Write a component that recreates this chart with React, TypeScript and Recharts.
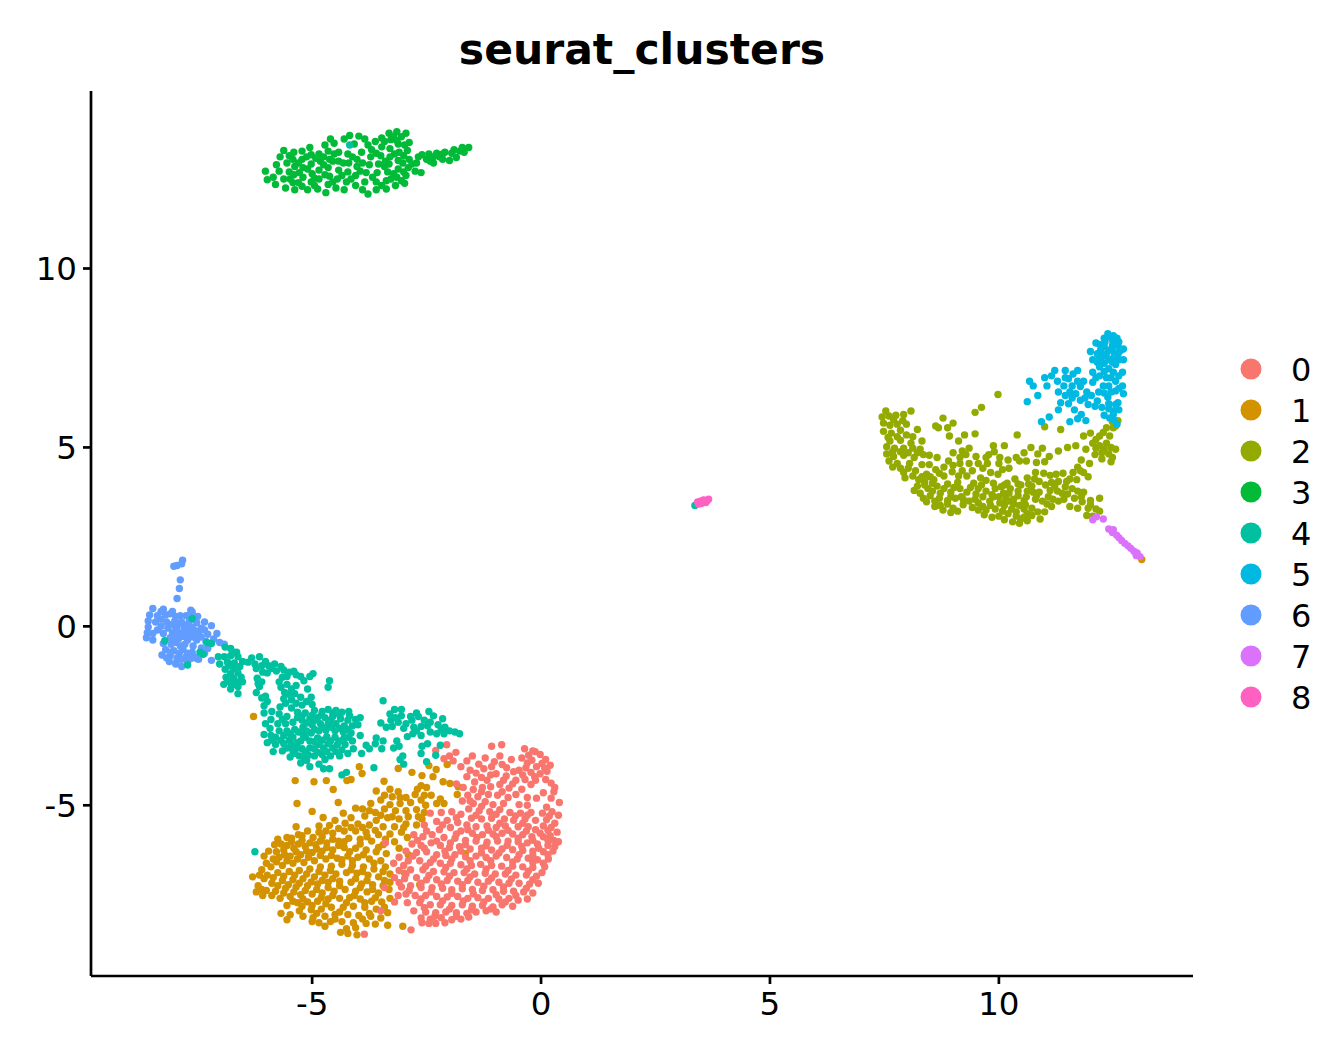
import React from "react";
import { ScatterChart, Scatter, XAxis, YAxis, Legend } from "recharts";

const clusterNames = ["0", "1", "2", "3", "4", "5", "6", "7", "8"];
const clusterColors = ["#F8766D", "#D39200", "#93AA00", "#00BA38", "#00C19F", "#00B9E3", "#619CFF", "#DB72FB", "#FF61C3"];
const xTicks = [-5, 0, 5, 10];
const yTicks = [-5, 0, 5, 10];
const xDomain = [-9.83, 14.24];
const yDomain = [-9.77, 14.96];

const cluster0 = [
[-2.06,-3.31],[-2.3,-3.47],[-1.08,-3.35],[-0.86,-3.31],[-0.36,-3.42],[-0.13,-3.5],[-0.27,-3.6],[-0.02,-3.58],[0.1,-3.72],[-0.2,-3.74],[-0.42,-3.68],[0.02,-3.83],[-0.1,-3.92],[0.2,-3.88],[-0.33,-3.95],[0.13,-4.05],[-0.22,-4.08],[-0.02,-4.12],[-0.48,-4.02],[-0.6,-4.06],[-0.75,-3.95],[-0.9,-3.62],[-1.02,-3.78],[-1.22,-3.68],[-1.36,-3.85],[-1.5,-3.62],[-1.62,-3.76],[-1.86,-3.52],[-2.0,-3.62],[-1.92,-3.76],[-2.12,-3.7],[-1.75,-3.92],[-1.55,-4.02],[-1.25,-3.98],[-1.08,-3.92],[-0.85,-3.86],[-0.65,-3.72],[-0.98,-4.12],[-0.76,-4.18],[-0.55,-4.3],[-0.35,-4.28],[-0.12,-4.3],[0.1,-4.28],[0.22,-4.38],[-0.22,-4.42],
[-1.3,-4.22],[-1.18,-4.3],[-1.45,-4.35],[-1.62,-4.2],[-1.85,-4.4],[-1.7,-4.5],[-1.48,-4.56],[-1.28,-4.5],[-1.1,-4.48],[-0.9,-4.42],[-0.7,-4.52],[-0.42,-4.55],[0.28,-4.62],[0.05,-4.65],[-1.6,-4.72],[-1.38,-4.76],[-1.15,-4.7],[-0.95,-4.72],[-0.72,-4.78],[-0.55,-4.7],[0.4,-4.92],[0.22,-4.8],[-0.1,-4.8],[-0.3,-4.78],
[-1.72,-4.88],[-1.48,-4.95],[-1.22,-4.9],[-1.05,-4.98],[-0.82,-4.95],[-0.3,-5.0],[-0.48,-4.98],[-1.58,-5.1],[-1.35,-5.15],[-1.12,-5.18],[-0.9,-5.12],[-0.68,-5.2],[-0.45,-5.22],[-0.22,-5.2],[0.12,-5.05],[0.03,-5.22],[0.24,-5.18],[0.38,-5.28],
[-2.42,-5.22],[-2.18,-5.2],[-1.95,-5.18],[-1.75,-5.25],[-1.52,-5.36],[-1.3,-5.38],[-1.08,-5.36],[-0.8,-5.38],[-0.6,-5.42],[-0.35,-5.38],[-0.12,-5.42],[0.12,-5.4],[0.3,-5.5],[0.05,-5.58],
[-2.55,-5.55],[-2.28,-5.45],[-2.05,-5.42],[-1.82,-5.48],[-1.62,-5.55],[-1.42,-5.6],[-1.18,-5.58],[-0.98,-5.62],[-0.78,-5.58],[-0.5,-5.6],[-0.28,-5.6],[-0.12,-5.68],[0.15,-5.7],[0.35,-5.75],[-2.22,-5.68],[-1.98,-5.62],[-1.75,-5.72],[-1.5,-5.78],[-1.28,-5.82],[-1.05,-5.8],[-0.85,-5.78],[-0.62,-5.8],[-0.4,-5.82],[-0.2,-5.88],[0.05,-5.88],[0.28,-5.98],
[-2.78,-5.82],[-2.58,-5.88],[-2.38,-5.82],[-2.12,-5.9],[-1.88,-5.92],[-1.65,-5.98],[-1.42,-6.0],[-1.18,-6.03],[-0.95,-6.0],[-0.72,-6.0],[-0.5,-6.02],[-0.3,-6.05],[-0.08,-6.08],[0.15,-6.12],[0.38,-6.02],
[-2.82,-6.08],[-2.62,-6.12],[-2.4,-6.05],[-2.2,-6.12],[-2.0,-6.18],[-1.78,-6.16],[-1.55,-6.22],[-1.3,-6.2],[-1.08,-6.25],[-0.85,-6.22],[-0.62,-6.24],[-0.4,-6.26],[-0.18,-6.28],[0.05,-6.3],[0.26,-6.28],
[-2.95,-6.28],[-2.72,-6.32],[-2.5,-6.3],[-2.28,-6.38],[-2.08,-6.4],[-1.88,-6.38],[-1.65,-6.44],[-1.42,-6.42],[-1.2,-6.46],[-0.98,-6.42],[-0.75,-6.46],[-0.52,-6.5],[-0.28,-6.48],[-0.08,-6.52],[0.16,-6.5],
[-3.1,-6.45],[-3.22,-6.62],[-2.9,-6.55],[-2.65,-6.55],[-2.42,-6.6],[-2.2,-6.62],[-1.98,-6.62],[-1.75,-6.66],[-1.52,-6.68],[-1.32,-6.65],[-1.08,-6.68],[-0.86,-6.7],[-0.62,-6.7],[-0.4,-6.72],[-0.18,-6.74],[0.08,-6.72],
[-3.1,-6.82],[-2.85,-6.8],[-2.58,-6.8],[-2.35,-6.85],[-2.12,-6.86],[-1.9,-6.88],[-1.68,-6.88],[-1.45,-6.92],[-1.22,-6.9],[-1.0,-6.92],[-0.78,-6.92],[-0.55,-6.95],[-0.32,-6.95],[-0.1,-6.98],[0.02,-6.88],
[-3.2,-7.02],[-2.98,-7.05],[-2.72,-7.02],[-2.5,-7.08],[-2.28,-7.08],[-2.05,-7.1],[-1.82,-7.12],[-1.6,-7.1],[-1.38,-7.15],[-1.15,-7.12],[-0.92,-7.15],[-0.7,-7.18],[-0.48,-7.18],[-0.25,-7.2],[-0.06,-7.18],
[-3.05,-7.28],[-2.85,-7.25],[-2.62,-7.3],[-2.38,-7.3],[-2.15,-7.32],[-1.95,-7.36],[-1.72,-7.33],[-1.5,-7.35],[-1.28,-7.38],[-1.05,-7.36],[-0.82,-7.4],[-0.6,-7.4],[-0.38,-7.42],[-0.18,-7.45],
[-3.12,-7.52],[-2.95,-7.48],[-2.75,-7.52],[-2.52,-7.52],[-2.28,-7.55],[-2.05,-7.56],[-1.82,-7.55],[-1.6,-7.6],[-1.38,-7.58],[-1.15,-7.6],[-0.92,-7.62],[-0.7,-7.6],[-0.5,-7.65],[-0.3,-7.62],
[-2.92,-7.72],[-2.65,-7.72],[-2.42,-7.78],[-2.2,-7.78],[-1.95,-7.8],[-1.72,-7.78],[-1.5,-7.82],[-1.28,-7.8],[-1.05,-7.84],[-0.85,-7.78],[-0.62,-7.82],
[-2.78,-7.95],[-2.52,-7.98],[-2.3,-8.0],[-2.08,-7.98],[-1.85,-8.0],[-1.62,-8.02],[-1.42,-7.98],[-1.2,-7.95],[-0.98,-7.98],
[-2.62,-8.15],[-2.42,-8.18],[-2.18,-8.14],[-1.95,-8.2],[-1.75,-8.18],[-1.58,-8.12],[-2.3,-8.3],[-2.1,-8.28],[-2.45,-8.3],[-2.84,-8.48],[-3.86,-8.6],[-3.4,-6.05],[-3.42,-7.3],[-3.5,-7.95],[-3.2,-7.7],
[-0.18,-3.48],[-0.3,-3.82],[0.08,-3.96],[-0.4,-4.15],[-0.14,-4.2],[0.3,-4.5],[-0.62,-4.4],[-0.82,-4.3],[-1.1,-4.15],[-1.42,-4.1],[-1.3,-4.62],[-0.85,-4.62],[-1.55,-4.88],[-1.3,-5.03],[-0.98,-5.25],[-0.56,-5.3],[-0.3,-5.28],[0.18,-5.3],[-1.42,-5.28],[-1.85,-5.35],[-2.15,-5.55],[-0.9,-5.5],[-0.4,-5.5],[0.22,-5.62],[-1.6,-5.68],[-1.15,-5.7],[-0.72,-5.7],[-0.32,-5.72],[-0.02,-5.78],[0.2,-5.85],[-2.5,-5.72],[-1.85,-5.8],[-1.4,-5.9],[-0.98,-5.88],[-0.5,-5.92],[-0.18,-5.98],[0.15,-5.98],[-2.7,-5.98],[-2.28,-6.0],[-1.98,-6.05],[-1.65,-6.1],[-1.2,-6.13],[-0.74,-6.12],[-0.42,-6.15],[-0.05,-6.2],[0.3,-6.15],[-2.55,-6.2],[-2.1,-6.28],[-1.75,-6.28],[-1.3,-6.33],[-0.92,-6.33],[-0.48,-6.38],[-0.18,-6.4],[0.15,-6.38],[-2.8,-6.42],[-2.35,-6.5],[-1.95,-6.5],[-1.55,-6.55],[-1.1,-6.55],[-0.62,-6.58],[-0.18,-6.6],[0.05,-6.62],[-3.0,-6.68],[-2.52,-6.7],[-2.08,-6.74],[-1.62,-6.78],[-1.2,-6.78],[-0.72,-6.82],[-0.28,-6.84],[-2.95,-6.92],[-2.45,-6.96],[-2.0,-6.98],[-1.55,-7.0],[-1.08,-7.03],[-0.65,-7.06],[-0.18,-7.08],[-3.1,-7.16],[-2.62,-7.18],[-2.18,-7.2],[-1.72,-7.22],[-1.25,-7.26],[-0.82,-7.28],[-0.32,-7.32],[-2.88,-7.38],[-2.4,-7.42],[-1.95,-7.46],[-1.48,-7.47],[-0.98,-7.5],[-0.55,-7.52],[-2.62,-7.62],[-2.15,-7.67],[-1.7,-7.67],[-1.25,-7.7],[-0.78,-7.7],[-2.55,-7.86],[-2.0,-7.9],[-1.52,-7.92],[-1.1,-7.9],[-2.32,-8.1],[-1.85,-8.1],[-2.6,-8.28]
];

const cluster1 = [
[-5.37,-4.31],[-4.96,-4.34],[-4.69,-4.31],[-4.24,-4.31],[-4.15,-4.28],[-4.54,-4.56],[-5.33,-4.95],[-4.43,-4.92],[-5,-5.17],[-4.76,-5.34],[-5.35,-5.6],[-3.97,-3.92],[-3.91,-4.11],[-3.43,-4.33],[-3.12,-3.97],[-2.45,-3.89],[-2.05,-3.86],[-2.29,-4.0],[-2.36,-4.2],[-2.82,-4.08],[-2.6,-4.17],[-2.14,-4.34],[-1.99,-4.39],[-1.81,-4.48],[-1.83,-4.7],
[-3.6,-4.6],[-3.3,-4.55],[-3.12,-4.62],[-2.62,-4.45],[-2.5,-4.5],[-2.75,-4.7],[-2.95,-4.78],[-3.25,-4.76],[-3.5,-4.85],[-3.72,-4.95],[-3.9,-5.1],[-3.3,-4.98],[-3.08,-4.95],[-2.85,-4.92],[-2.62,-4.85],[-2.4,-4.72],[-2.2,-4.82],[-2.12,-4.95],[-2.52,-5.0],[-2.72,-5.12],[-2.95,-5.15],[-3.18,-5.15],[-3.42,-5.1],[-3.62,-5.2],[-3.85,-5.3],[-4.05,-5.08],[-4.15,-5.35],[-4.32,-5.22],[-3.6,-5.42],[-3.35,-5.35],[-3.1,-5.38],[-2.9,-5.32],[-2.68,-5.32],[-2.55,-5.2],[-2.72,-5.55],[-2.95,-5.52],[-3.2,-5.6],[-3.45,-5.6],[-3.75,-5.55],[-4.0,-5.52],[-4.28,-5.5],[-4.5,-5.42],[-4.62,-5.56],[-4.85,-5.58],[-4.7,-5.72],[-5.1,-5.72],[-5.3,-5.82],[-5.55,-5.9],[-5.75,-5.95],[-5.82,-6.1],
[-5.95,-6.28],[-6.05,-6.42],[-5.68,-6.08],[-5.45,-6.02],[-5.22,-5.98],[-4.98,-5.9],[-4.78,-5.88],[-4.55,-5.78],[-4.3,-5.72],[-4.05,-5.72],[-3.82,-5.75],[-3.55,-5.82],[-3.3,-5.8],[-3.05,-5.75],[-2.92,-5.9],[-3.2,-6.02],[-3.45,-6.1],[-3.7,-6.0],[-3.95,-5.95],[-4.2,-5.92],[-4.42,-6.0],[-4.68,-6.05],[-4.92,-6.1],[-5.15,-6.15],[-5.4,-6.2],[-5.62,-6.25],[-5.85,-6.5],
[-5.72,-6.45],[-5.48,-6.42],[-5.25,-6.38],[-5.0,-6.32],[-4.78,-6.28],[-4.55,-6.25],[-4.3,-6.18],[-4.05,-6.2],[-3.82,-6.25],[-3.6,-6.3],[-3.38,-6.35],[-3.5,-6.55],[-3.75,-6.5],[-4.0,-6.45],[-4.22,-6.42],[-4.45,-6.48],[-4.7,-6.5],[-4.95,-6.55],[-5.18,-6.6],[-5.42,-6.62],[-5.65,-6.68],[-5.9,-6.72],[-6.1,-6.8],
[-6.3,-7.0],[-6.18,-7.25],[-5.98,-6.95],[-5.75,-6.88],[-5.5,-6.85],[-5.28,-6.82],[-5.05,-6.78],[-4.82,-6.72],[-4.58,-6.7],[-4.35,-6.65],[-4.12,-6.68],[-3.88,-6.72],[-3.65,-6.78],[-3.4,-6.72],[-3.3,-6.92],[-3.55,-7.0],[-3.78,-6.95],[-4.02,-6.9],[-4.25,-6.88],[-4.48,-6.92],[-4.72,-6.95],[-4.95,-7.0],[-5.2,-7.05],[-5.42,-7.08],[-5.65,-7.1],[-5.88,-7.18],[-6.05,-7.05],
[-6.0,-7.38],[-6.22,-7.42],[-6.08,-7.52],[-5.8,-7.4],[-5.58,-7.32],[-5.35,-7.28],[-5.1,-7.25],[-4.88,-7.2],[-4.65,-7.15],[-4.4,-7.12],[-4.15,-7.15],[-3.92,-7.2],[-3.68,-7.22],[-3.45,-7.25],[-3.3,-7.15],[-3.55,-7.45],[-3.8,-7.42],[-4.05,-7.4],[-4.28,-7.35],[-4.52,-7.4],[-4.78,-7.45],[-5.0,-7.48],[-5.25,-7.5],[-5.48,-7.55],[-5.7,-7.6],
[-5.55,-7.8],[-5.32,-7.72],[-5.1,-7.7],[-4.88,-7.68],[-4.65,-7.62],[-4.4,-7.6],[-4.18,-7.58],[-3.95,-7.62],[-3.7,-7.68],[-3.48,-7.7],[-3.3,-7.6],[-3.6,-7.9],[-3.85,-7.85],[-4.1,-7.82],[-4.32,-7.85],[-4.58,-7.85],[-4.8,-7.9],[-5.02,-7.92],[-5.28,-7.95],[-5.68,-8.02],[-5.48,-8.06],
[-5.2,-8.1],[-4.98,-8.14],[-4.72,-8.1],[-4.5,-8.05],[-4.22,-8.05],[-3.98,-8.08],[-3.72,-8.1],[-3.5,-8.15],[-3.35,-8.0],[-4.35,-8.25],[-4.1,-8.28],[-3.82,-8.3],[-3.62,-8.32],[-4.6,-8.25],[-4.85,-8.28],[-5.0,-8.25],[-4.25,-8.45],[-4.05,-8.42],[-4.38,-8.55],[-4.22,-8.58],[-4.02,-8.62],[-3.35,-8.35],[-3.02,-8.38],[-2.9,-6.38],[-2.98,-6.9],[-2.65,-7.22],[-1.65,-6.35],[-2.55,-4.72],[13.12,1.87],[-6.28,-2.52],
[-3.42,-4.72],[-3.08,-4.78],[-2.7,-4.55],[-2.28,-4.95],[-2.6,-5.38],[-3.25,-5.32],[-3.5,-5.28],[-3.75,-5.15],[-3.0,-5.62],[-3.62,-5.7],[-3.9,-5.62],[-4.15,-5.62],[-4.42,-5.65],[-4.85,-5.75],[-5.22,-5.85],[-5.45,-5.92],[-3.4,-5.95],[-3.8,-5.88],[-4.3,-6.02],[-4.55,-5.95],[-4.82,-6.0],[-5.05,-6.05],[-5.3,-6.08],[-5.55,-6.12],[-5.78,-6.3],[-3.1,-6.2],[-3.55,-6.18],[-3.95,-6.08],[-4.18,-6.3],[-4.42,-6.12],[-4.68,-6.18],[-4.9,-6.22],[-5.12,-6.28],[-5.35,-6.3],[-5.6,-6.38],[-3.65,-6.62],[-3.88,-6.38],[-4.12,-6.55],[-4.35,-6.52],[-4.58,-6.4],[-4.82,-6.4],[-5.08,-6.45],[-5.32,-6.5],[-5.55,-6.55],[-5.78,-6.58],[-6.0,-6.62],[-3.45,-6.85],[-3.9,-6.85],[-4.15,-6.8],[-4.6,-6.82],[-4.85,-6.85],[-5.12,-6.92],[-5.38,-6.95],[-5.62,-6.98],[-5.85,-7.02],[-6.15,-6.95],[-3.42,-7.1],[-3.8,-7.1],[-4.05,-7.05],[-4.55,-7.05],[-4.78,-7.1],[-5.02,-7.14],[-5.28,-7.18],[-5.52,-7.22],[-5.75,-7.25],[-6.1,-7.35],[-3.32,-7.35],[-3.68,-7.35],[-3.95,-7.3],[-4.4,-7.25],[-4.65,-7.3],[-4.9,-7.35],[-5.15,-7.38],[-5.4,-7.42],[-5.62,-7.45],[-5.88,-7.52],[-3.62,-7.58],[-4.08,-7.52],[-4.55,-7.52],[-4.8,-7.58],[-5.2,-7.62],[-5.42,-7.68],[-3.85,-7.72],[-4.25,-7.72],[-4.7,-7.75],[-5.0,-7.8],[-5.22,-7.82],[-3.42,-7.85],[-3.75,-8.02],[-4.4,-7.98],[-4.9,-8.02],[-3.9,-8.18],[-4.5,-8.18],[-5.55,-8.2],[-4.72,-8.38]
];

const cluster2 = [
[7.53,6.02],[7.6,5.88],[7.45,5.85],[7.48,5.68],[7.62,5.62],[7.75,5.9],[7.92,5.92],[8.08,6.02],[7.9,5.75],[7.78,5.65],[7.48,5.45],[7.65,5.4],[7.85,5.48],[7.98,5.35],[8.12,5.3],[8.22,5.5],[8.32,5.18],[8.08,5.12],[7.85,5.2],[7.62,5.18],[7.55,5.02],[7.72,4.98],[7.92,4.98],[8.12,4.98],[8.28,4.95],[7.55,4.82],[7.7,4.75],[7.92,4.78],[8.15,4.72],[8.35,4.8],[8.48,4.78],[7.6,4.62],[7.78,4.55],[8.05,4.55],[8.32,4.52],[8.48,4.52],[7.92,4.3],[7.95,4.15],[8.18,4.35],[8.42,4.25],[8.62,4.38],[8.8,4.45],[8.25,4.1],[8.38,4.05],[8.58,4.1],[8.8,4.2],[9.0,4.5],[9.15,4.55],[8.22,3.92],[8.45,3.85],[8.65,3.92],[8.88,3.98],[9.1,4.02],[8.28,3.72],[8.5,3.65],[8.72,3.72],[8.95,3.75],[9.15,3.85],[8.35,3.58],[8.6,3.5],[8.88,3.52],[9.05,3.58],[8.72,3.38],[8.88,3.42],[8.95,3.18],[9.1,3.22],[8.78,5.82],[9.0,5.68],[8.88,5.55],[8.92,5.32],[9.12,5.18],[9.0,4.85],[9.15,4.72],[9.28,4.8],[9.35,4.55],[9.5,4.75],[9.25,5.35],[9.48,5.98],[9.62,6.12],[9.48,5.38],[9.98,6.48],[9.78,4.8],[9.88,5.05],[9.9,4.88],[10.12,5.05],[9.75,4.55],[10.0,4.55],[10.2,4.65],[9.65,4.42],[9.82,4.3],[9.98,4.25],[9.42,4.35],[9.3,4.2],[9.45,4.0],[9.62,3.95],[9.3,3.75],[9.5,3.7],[9.72,3.78],[9.92,3.85],[10.12,3.95],[9.35,3.5],[9.55,3.45],[9.8,3.5],[10.0,3.62],[10.22,3.72],[9.55,3.25],[9.72,3.25],[9.92,3.28],[10.12,3.38],[10.32,3.42],[10.0,3.08],[9.85,3.05],[10.2,3.15],[10.38,3.2],[10.55,3.28],[10.3,2.92],[10.48,3.0],[10.62,2.95],[10.72,3.1],[10.45,2.88],[10.72,3.3],[10.9,3.0],[11.0,3.2],[10.18,4.0],[10.35,4.12],[10.48,3.95],[10.62,3.78],[10.42,3.65],[10.55,3.52],[10.8,3.55],[10.72,3.92],[10.88,3.75],[11.05,3.42],[11.15,3.35],[11.3,3.5],[10.62,4.15],[10.78,4.12],[10.98,4.28],[10.8,4.3],[11.12,4.22],[11.15,4.02],[11.3,4.05],[11.12,3.8],[11.28,3.78],[11.45,3.9],[11.5,3.7],[11.42,3.55],[11.55,4.12],[11.7,4.1],[11.55,3.35],[11.72,3.3],[11.65,3.58],[11.82,3.48],[11.95,3.3],[12.0,3.4],[12.12,3.28],[11.92,3.1],[12.05,3.08],[12.2,3.22],[11.85,3.75],[12.0,3.52],[12.2,3.58],[11.72,4.45],[11.85,4.3],[11.95,4.18],[11.8,4.65],[10.38,4.72],[10.55,4.85],[10.4,5.35],[10.7,5.0],[10.85,4.82],[10.95,4.98],[11.1,4.75],[11.3,4.9],[11.5,5.0],[11.68,5.05],[11.9,4.95],[12.2,5.05],[12.05,5.12],[11.35,5.5],[11.0,5.58],[11.85,5.32],[12.0,5.4],[12.2,5.32],[12.35,5.55],[12.5,5.55],[12.35,5.12],[12.45,5.0],[12.3,4.95],[12.1,4.8],[12.25,4.68],[12.4,4.82],[12.55,4.95],[12.6,5.75],[12.48,5.72],[12.55,5.6],[12.45,4.6],[11.98,4.55],[9.6,4.15],[9.85,3.68],[10.15,3.55],[10.58,3.4],[10.02,4.72],[11.25,4.25],[11.4,4.28],[8.65,4.72],[8.62,5.6],[8.68,5.55],[9.2,4.35],[8.78,3.25],[10.82,3.65],[11.08,3.62],
[7.7,5.78],[7.58,5.28],[7.78,5.3],[7.98,5.65],[7.68,4.88],[7.85,4.88],[8.02,4.85],[8.22,4.85],[7.68,4.45],[7.85,4.42],[8.02,4.42],[8.12,4.2],[8.32,4.18],[8.5,4.18],[8.7,4.28],[8.98,4.32],[8.15,3.8],[8.38,3.95],[8.55,3.78],[8.8,3.85],[9.02,3.88],[8.42,3.48],[8.7,3.58],[8.95,3.62],[9.18,3.62],[8.6,3.35],[9.0,3.3],[9.22,3.4],[9.12,4.2],[9.38,3.88],[9.55,3.85],[9.72,4.08],[9.88,4.0],[10.05,3.9],[10.25,3.85],[9.22,3.55],[9.48,3.55],[9.65,3.62],[9.88,3.62],[10.1,3.72],[10.32,3.55],[9.42,3.32],[9.65,3.35],[9.82,3.38],[10.02,3.45],[10.22,3.5],[9.68,3.12],[10.08,3.22],[10.28,3.28],[10.45,3.38],[10.62,3.15],[10.12,2.98],[10.38,3.08],[10.85,3.2],[10.55,3.05],[10.42,3.78],[10.6,3.62],[10.75,3.75],[10.95,3.5],[11.18,3.55],[10.42,3.98],[10.65,3.98],[10.88,4.05],[11.02,3.95],[11.22,3.92],[11.38,3.72],[11.6,3.85],[11.72,3.78],[11.8,3.62],[11.48,4.05],[11.62,4.3],[11.78,4.35],[12.12,4.98],[12.25,4.85],[12.48,4.72],[12.28,5.42],[12.42,5.32],[12.12,5.22],[10.22,4.42],[10.45,4.62],[10.6,4.62],[10.82,4.58],[11.0,4.6],[10.08,4.38],[9.55,4.55],[9.2,4.9],[8.9,4.62],[9.72,4.72],[9.35,4.98],[8.55,4.0]
];

const cluster3 = [
[-6.02,12.72],[-5.98,12.48],[-5.78,12.9],[-5.85,12.55],[-5.62,13.3],[-5.7,13.12],[-5.55,12.95],[-5.72,12.72],[-5.62,12.5],[-5.8,12.35],[-5.58,12.25],[-5.42,12.4],[-5.4,12.62],[-5.38,12.85],[-5.42,13.05],[-5.4,13.25],[-5.22,13.28],[-5.22,13.05],[-5.2,12.82],[-5.2,12.55],[-5.22,12.3],[-5.38,12.2],[-5.1,12.2],[-5.02,12.42],[-5.0,12.65],[-5.02,12.92],[-5.02,13.18],[-5.05,13.38],[-4.85,13.2],[-4.82,13.0],[-4.85,12.75],[-4.85,12.5],[-4.88,12.22],[-4.7,12.12],[-4.65,12.35],[-4.62,12.58],[-4.65,12.82],[-4.62,13.05],[-4.65,13.28],[-4.72,13.45],[-4.6,13.62],[-4.52,13.5],[-4.42,13.25],[-4.42,13.0],[-4.42,12.75],[-4.45,12.5],[-4.48,12.25],[-4.3,12.2],[-4.25,12.42],[-4.22,12.7],[-4.2,12.95],[-4.22,13.2],[-4.18,13.72],[-4.3,13.62],[-4.08,13.48],[-3.98,13.7],[-3.85,13.62],[-3.92,13.25],[-4.02,13.05],[-4.02,12.85],[-4.05,12.6],[-4.05,12.32],[-3.9,12.2],[-3.78,12.08],[-3.85,12.42],[-3.82,12.68],[-3.75,12.9],[-3.72,13.12],[-3.7,13.32],[-3.62,13.55],[-3.48,13.65],[-3.48,13.4],[-3.5,13.15],[-3.55,12.92],[-3.58,12.68],[-3.6,12.42],[-3.6,12.2],[-3.38,12.22],[-3.38,12.45],[-3.35,12.7],[-3.32,12.92],[-3.3,13.12],[-3.3,13.35],[-3.28,13.6],[-3.32,13.78],[-3.15,13.82],[-3.05,13.68],[-3.12,13.48],[-3.1,13.25],[-3.12,13.02],[-3.12,12.78],[-3.15,12.55],[-3.18,12.32],[-2.98,12.38],[-2.95,12.6],[-2.9,12.82],[-2.88,13.05],[-2.92,13.3],[-2.88,13.52],[-2.95,13.78],[-2.72,12.95],[-2.68,13.12],[-2.75,12.72],[-2.62,12.68],[-2.5,13.05],[-2.45,13.2],[-2.35,12.95],[-2.28,13.22],[-2.15,13.05],[-2.1,13.25],[-2.0,13.02],[-1.95,13.22],[-1.85,13.1],[-1.78,13.28],[-1.68,13.25],[-1.58,13.38],[-1.72,13.38],[-1.9,13.32],[-2.42,13.0],[-2.22,13.12],[-4.55,13.0],[-3.9,12.95],[-4.75,12.9],[-3.42,12.85],[-5.28,12.68],[-4.95,12.52],
[-5.5,13.15],[-5.3,12.95],[-5.12,13.12],[-4.92,13.08],[-4.75,13.12],[-5.1,12.78],[-4.95,12.32],[-4.72,12.62],[-4.55,12.42],[-4.35,12.6],[-4.15,12.5],[-3.95,12.72],[-3.68,12.55],[-3.48,12.32],[-3.28,12.5],[-3.05,12.45],[-3.22,12.65],[-3.02,12.95],[-3.2,13.2],[-3.4,13.0],[-3.6,13.22],[-3.78,13.45],[-4.12,13.12],[-4.32,12.95],[-4.52,13.2],[-5.3,12.4],[-5.5,12.7],[-5.48,12.5],[-3.22,13.7],[-3.0,13.15],[-2.98,13.45],[-3.15,13.58],[-3.42,13.55],[-3.0,12.7],[-2.82,12.92],[-2.6,13.18],[-2.35,13.12],[-2.15,13.2]
];

const cluster4 = [
[3.36,3.38],[-4.18,13.45],[-6.25,-6.3],[-7.72,-1.08],[-8.22,-0.4],[-7.62,0.22],[-7.3,-0.45],[-7.2,-0.48],[-7.45,-0.72],[-7.38,-0.78],
[-6.9,-0.58],[-6.78,-0.62],[-6.65,-0.72],[-7.05,-0.85],[-6.92,-0.85],[-6.78,-0.82],[-6.62,-0.85],[-6.52,-0.98],[-7.02,-1.05],[-6.85,-1.0],[-6.7,-1.02],[-6.58,-1.12],[-6.72,-1.18],[-6.9,-1.2],[-6.62,-1.3],[-6.78,-1.32],[-6.55,-1.42],[-6.72,-1.45],[-6.88,-1.42],[-6.6,-1.55],[-6.78,-1.58],[-6.93,-1.62],[-6.62,-1.68],[-6.78,-1.75],[-6.52,-1.55],[-6.62,-1.88],
[-6.32,-0.88],[-6.15,-0.85],[-6.02,-0.98],[-6.25,-1.05],[-6.1,-1.1],[-5.95,-1.1],[-5.82,-1.05],[-5.68,-1.12],[-5.78,-1.25],[-6.22,-1.18],[-5.98,-1.3],[-5.62,-1.22],[-5.5,-1.28],[-5.4,-1.25],[-5.35,-1.35],[-5.05,-1.4],[-4.98,-1.32],[-5.18,-1.52],[-4.62,-1.52],[-4.65,-1.7],[-6.2,-1.45],[-6.1,-1.55],[-6.15,-1.68],[-5.65,-1.42],[-5.72,-1.55],[-5.68,-1.7],[-5.55,-1.62],[-5.6,-1.85],[-5.45,-1.75],[-5.35,-1.65],[-5.38,-1.88],[-6.22,-1.85],[-6.1,-2.0],[-6.02,-1.95],[-5.98,-2.1],[-6.05,-2.22],[-6.05,-2.42],[-5.62,-2.02],[-5.45,-2.05],[-5.25,-1.98],[-5.1,-1.75],[-5.02,-1.98],[-5.0,-2.18],[-5.22,-2.2],[-5.45,-2.28],[-5.7,-2.25],[-5.88,-2.38],[-5.72,-2.45],[-5.55,-2.52],[-5.32,-2.4],[-5.15,-2.42],[-4.95,-2.35],[-4.78,-2.38],[-4.65,-2.32],[-4.48,-2.35],[-4.35,-2.4],[-4.2,-2.38],
[-6.02,-2.72],[-5.92,-2.85],[-5.75,-2.72],[-5.58,-2.72],[-5.42,-2.68],[-5.22,-2.62],[-5.05,-2.58],[-4.88,-2.55],[-4.72,-2.55],[-4.55,-2.52],[-4.38,-2.58],[-4.22,-2.62],[-4.05,-2.6],[-3.95,-2.55],[-4.12,-2.78],[-4.3,-2.78],[-4.48,-2.72],[-4.65,-2.72],[-4.82,-2.72],[-5.0,-2.75],[-5.2,-2.82],[-5.38,-2.88],[-5.55,-2.92],[-5.72,-2.92],[-5.9,-3.05],[-6.05,-3.02],[-5.98,-3.25],[-5.8,-3.1],[-5.62,-3.05],[-5.42,-3.1],[-5.2,-3.02],[-5.02,-2.98],[-4.85,-2.92],[-4.7,-2.9],[-4.5,-2.92],[-4.32,-2.95],[-4.15,-2.98],[-3.95,-3.05],[-4.12,-3.2],[-4.3,-3.12],[-4.5,-3.1],[-4.68,-3.08],[-4.88,-3.12],[-5.05,-3.2],[-5.25,-3.2],[-5.45,-3.3],[-5.62,-3.28],[-5.8,-3.3],[-5.85,-3.5],[-5.65,-3.48],[-5.42,-3.48],[-5.22,-3.42],[-5.05,-3.4],[-4.85,-3.3],[-4.65,-3.28],[-4.45,-3.3],[-4.28,-3.3],[-4.1,-3.42],[-5.48,-3.65],[-5.28,-3.62],[-5.08,-3.6],[-4.88,-3.52],[-4.68,-3.5],[-4.48,-3.5],[-5.12,-3.75],[-5.25,-3.82],[-5.05,-3.92],[-4.6,-3.62],[-4.35,-3.45],[-4.4,-3.62],[-4.22,-3.55],[-4.85,-3.85],[-4.72,-3.72],[-3.82,-3.32],[-3.75,-3.42],[-3.62,-3.28],[-3.48,-3.42],[-3.45,-3.2],[-3.22,-3.4],[-3.1,-3.35],[-3.15,-3.2],[-3.02,-3.62],[-3.08,-3.72],[-3.0,-3.85],[-4.35,-4.15],[-4.25,-4.08],[-4.62,-3.98],[-4.75,-3.98],[-3.65,-3.95],[-2.5,-3.78],
[-3.45,-2.08],[-3.2,-2.32],[-3.05,-2.32],[-3.5,-2.7],[-3.3,-2.45],[-3.28,-2.62],[-3.12,-2.68],[-3.25,-2.8],[-3.38,-2.82],[-3.0,-2.85],[-2.82,-2.62],[-2.72,-2.42],[-2.68,-2.52],[-2.85,-2.52],[-2.55,-2.62],[-2.62,-2.8],[-2.78,-2.82],[-2.48,-2.78],[-2.8,-3.0],[-2.92,-3.08],[-2.62,-3.05],[-2.42,-2.95],[-2.28,-3.0],[-2.12,-3.0],[-2.0,-2.92],[-1.88,-2.95],[-1.78,-3.0],[-2.18,-2.88],[-2.15,-2.58],[-2.45,-2.38],[-2.35,-2.5],[-2.1,-2.82],[-2.25,-2.75],[-2.6,-3.35],[-2.62,-3.55],[-2.48,-3.28],[-2.2,-3.32],[-2.3,-3.6],
[-5.9,-2.6],[-5.65,-2.6],[-5.32,-2.55],[-5.12,-2.7],[-4.95,-2.62],[-4.6,-2.62],[-4.4,-2.48],[-4.18,-2.5],[-4.0,-2.75],[-4.22,-2.88],[-4.4,-2.85],[-4.58,-2.82],[-4.78,-2.82],[-4.95,-2.88],[-5.12,-2.92],[-5.3,-2.95],[-5.48,-3.0],[-5.68,-3.18],[-5.88,-3.18],[-5.5,-3.18],[-5.32,-3.25],[-5.15,-3.1],[-4.95,-3.22],[-4.78,-3.18],[-4.6,-3.2],[-4.4,-3.2],[-4.2,-3.1],[-5.55,-3.4],[-5.32,-3.4],[-5.15,-3.5],[-4.95,-3.42],[-4.75,-3.4],[-4.55,-3.4],[-5.38,-3.55],[-5.18,-3.65],[-4.95,-3.62],[-4.78,-3.58],[-6.4,-1.0],[-5.88,-1.18],[-6.08,-1.28],[-5.55,-1.4],[-5.25,-1.4],[-5.5,-1.9],[-6.18,-1.6],[-5.12,-2.1],[-5.35,-2.15],[-5.58,-2.15],[-5.0,-2.48],[-4.8,-2.48],[-5.22,-2.5],[-4.55,-2.42],[-6.72,-0.72],[-6.82,-1.1],[-6.68,-1.62],[-6.85,-1.52],[-3.05,-2.5],[-2.95,-2.72],[-2.72,-2.92],[-2.42,-2.68],[-3.18,-2.55],[-3.6,-3.12],[-3.92,-3.55]
];

const cluster5 = [
[10.67,6.85],[10.75,6.72],[11.0,6.95],[10.85,6.45],[11.15,7.0],[11.05,6.72],[11.22,7.15],[11.28,6.85],[10.62,6.28],[11.3,6.55],[11.45,7.15],[11.52,6.92],[11.62,7.05],[11.72,7.15],[11.6,6.72],[11.45,6.45],[11.35,6.25],[11.3,6.05],[11.52,6.22],[11.68,6.5],[11.78,6.7],[11.85,6.85],[11.92,6.55],[12.05,6.82],[11.78,6.32],[11.65,6.05],[11.8,5.92],[11.95,6.2],[12.15,6.3],[12.25,6.12],[12.38,6.4],[12.5,6.02],[12.6,6.25],[12.72,6.5],[12.7,6.72],[12.4,6.72],[12.2,7.0],[12.28,6.72],[12.45,6.95],[12.62,7.0],[12.05,7.1],[12.2,7.25],[12.4,7.2],[12.55,7.32],[12.7,7.1],[12.72,7.45],[12.6,7.6],[12.4,7.45],[12.2,7.5],[12.05,7.45],[12.0,7.68],[12.22,7.72],[12.4,7.72],[12.6,7.85],[12.72,7.75],[12.48,8.0],[12.32,7.95],[12.2,7.88],[12.12,7.92],[12.38,8.18],[12.5,8.12],[12.62,7.95],[12.28,7.55],[12.5,7.5],[12.58,5.65],[12.42,5.82],[12.5,5.92],[12.4,6.08],[12.55,6.2],[11.9,5.75],[11.72,5.8],[11.55,5.72],[11.1,5.85],[10.93,5.72],[12.3,6.52],[12.55,6.58],[12.18,6.55],
[12.3,8.05],[12.42,8.1],[12.58,8.05],[12.3,7.82],[12.48,7.85],[12.65,7.7],[12.15,7.62],[12.35,7.62],[12.5,7.68],[12.3,7.35],[12.48,7.38],[12.62,7.45],[12.15,7.38],[12.3,7.12],[12.5,7.1],[12.35,6.95],[12.12,6.95],[12.55,6.85],[12.62,6.65],[12.45,6.55],[12.4,6.22],[11.72,6.85],[11.55,6.55],[11.42,6.72],[12.02,6.45],[11.88,6.38],[12.1,6.15],[12.5,5.78],[12.3,5.9],[12.62,6.05],[11.6,6.38],[11.45,6.95]
];

const cluster6 = [
[-7.83,1.85],[-7.85,1.75],[-7.95,1.7],[-8.02,1.68],[-7.88,1.3],[-7.9,1.06],[-7.95,0.78],
[-8.48,0.5],[-8.25,0.48],[-8.05,0.42],[-7.65,0.45],[-8.55,0.32],[-8.38,0.3],[-8.2,0.32],[-7.98,0.28],[-7.75,0.3],[-7.5,0.28],[-7.62,0.4],[-8.58,0.15],[-8.42,0.12],[-8.18,0.12],[-8.0,0.15],[-7.85,0.12],[-7.68,0.15],[-7.52,0.1],[-7.35,0.12],[-8.58,-0.02],[-8.38,-0.1],[-8.15,-0.05],[-7.98,-0.02],[-7.8,-0.02],[-7.62,-0.02],[-7.42,-0.05],[-7.2,0.02],[-7.08,-0.2],[-8.6,-0.18],[-8.25,-0.2],[-8.05,-0.18],[-7.85,-0.2],[-7.68,-0.2],[-7.48,-0.2],[-7.28,-0.22],[-8.62,-0.32],[-8.48,-0.38],[-8.1,-0.32],[-7.92,-0.35],[-7.72,-0.38],[-7.52,-0.38],[-7.32,-0.42],[-8.08,-0.5],[-8.25,-0.48],[-7.88,-0.55],[-7.6,-0.55],[-7.15,-0.35],[-7.02,-0.45],[-6.92,-0.5],[-8.2,-0.65],[-8.02,-0.68],[-7.82,-0.65],[-7.62,-0.72],[-7.42,-0.6],[-7.28,-0.62],[-8.28,-0.8],[-8.1,-0.82],[-7.95,-0.88],[-7.75,-0.85],[-7.58,-0.85],[-7.48,-0.92],[-8.12,-0.98],[-7.98,-1.05],[-7.85,-1.12],[-7.72,-0.98],[-7.52,-0.9],[-7.2,-0.95],[-7.95,-0.95],[-8.3,0.0],[-8.48,-0.2],[-7.35,-0.75],
[-8.3,0.42],[-8.1,0.35],[-7.88,0.3],[-8.3,0.2],[-8.1,0.05],[-7.92,0.08],[-7.72,0.05],[-7.55,0.2],[-7.95,-0.1],[-7.75,-0.12],[-7.55,-0.12],[-7.35,-0.1],[-7.98,-0.28],[-7.8,-0.28],[-7.6,-0.3],[-7.42,-0.3],[-7.98,-0.45],[-7.78,-0.5],[-8.1,-0.72],[-7.9,-0.75],[-7.72,-0.75],[-8.18,-0.88],[-7.85,-0.92],[-7.65,-0.9]
];

const cluster7 = [
[12.13,3.06],[12.05,2.98],[12.28,3.0],[12.4,2.72],[12.5,2.7],[12.48,2.62],[12.57,2.55],[12.62,2.48],[12.68,2.4],[12.75,2.32],[12.82,2.25],[12.88,2.18],[12.95,2.1],[13.02,2.05],[13.0,1.98],[13.08,1.95]
];

const cluster8 = [
[3.44,3.42],[3.48,3.5],[3.55,3.48],[3.62,3.5],[3.66,3.55],[3.6,3.46],[3.5,3.43],[3.55,3.53],[3.42,3.48]
];

const clusterData = [cluster0, cluster1, cluster2, cluster3, cluster4, cluster5, cluster6, cluster7, cluster8];
const drawOrder = [1, 0, 2, 3, 5, 6, 4, 7, 8];

function LegendBox() {
  return (
    <svg width={151} height={380} style={{ display: "block" }}>
      {clusterNames.map((name, i) => (
        <g key={name}>
          <circle cx={58} cy={19 + i * 41} r={10.5} fill={clusterColors[i]} />
          <text x={98} y={19 + i * 41} dy="0.36em" fontSize={32} fontFamily="DejaVu Sans" fill="#000">{name}</text>
        </g>
      ))}
    </svg>
  );
}

export default function App() {
  return (
    <div style={{ position: "absolute", left: 0, top: 0, width: 1344, height: 1056, background: "#fff", overflow: "hidden" }}>
      <div style={{ position: "absolute", left: 91, width: 1102, top: 25, textAlign: "center", fontFamily: "DejaVu Sans", fontWeight: 700, fontSize: 42.5, lineHeight: "50px", color: "#000" }}>seurat_clusters</div>
      <ScatterChart width={1344} height={1056} margin={{ top: 91, right: 0, bottom: 40, left: 1 }}>
        <XAxis
          type="number"
          dataKey="x"
          domain={xDomain}
          ticks={xTicks}
          height={40}
          tickSize={8}
          tickMargin={8}
          interval={0}
          axisLine={{ stroke: "#000", strokeWidth: 2.7 }}
          tickLine={{ stroke: "#000", strokeWidth: 2.7 }}
          tick={{ fontSize: 32.5, fontFamily: "DejaVu Sans", fill: "#000" }}
        />
        <YAxis
          type="number"
          dataKey="y"
          domain={yDomain}
          ticks={yTicks}
          width={90}
          tickSize={8}
          tickMargin={6}
          interval={0}
          axisLine={{ stroke: "#000", strokeWidth: 2.7 }}
          tickLine={{ stroke: "#000", strokeWidth: 2.7 }}
          tick={{ fontSize: 32.5, fontFamily: "DejaVu Sans", fill: "#000" }}
        />
        <Legend
          layout="vertical"
          align="right"
          verticalAlign="top"
          wrapperStyle={{ position: "absolute", left: 1193, top: 350, width: 151 }}
          content={() => <LegendBox />}
        />
        {drawOrder.map((idx) => (
          <Scatter
            key={idx}
            name={clusterNames[idx]}
            data={clusterData[idx].map(([x, y]) => ({ x, y }))}
            fill={clusterColors[idx]}
            isAnimationActive={false}
            shape={(p: any) => <circle cx={p.cx} cy={p.cy} r={3.7} fill={clusterColors[idx]} />}
          />
        ))}
      </ScatterChart>
    </div>
  );
}
